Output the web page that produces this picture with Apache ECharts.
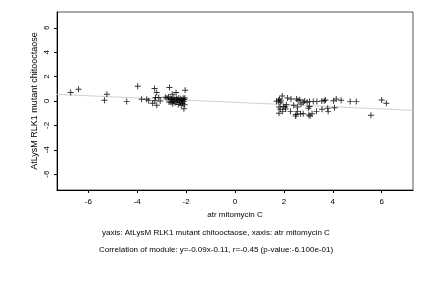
<!DOCTYPE html>
<html><head><meta charset="utf-8">
<script src="https://cdn.jsdelivr.net/npm/echarts@6/dist/echarts.min.js"></script>
<style>html,body{margin:0;padding:0;background:#fff}#c{width:432px;height:288px}</style>
</head><body><div id="c"></div>
<script>
const xValues = [-6.72,-6.40,-5.34,-5.24,-4.43,-3.98,-3.82,-3.61,-3.53,-3.37,-3.29,-3.20,-3.20,-3.25,-3.12,-3.06,-3.28,-2.68,-2.57,-2.41,-2.04,-2.09,
 -2.85,-2.78,-2.72,-2.65,-2.62,-2.58,-2.55,-2.50,-2.48,-2.45,-2.40,-2.38,-2.35,-2.32,-2.30,-2.27,-2.25,-2.22,-2.20,-2.18,-2.15,-2.12,-2.10,-2.08,-2.06,-2.05,-2.70,-2.60,-2.52,-2.15,
 1.93,1.70,1.78,1.82,1.88,1.85,2.15,2.29,2.52,2.58,2.65,2.79,2.85,2.95,3.05,3.20,3.35,3.55,3.65,3.70,4.03,4.14,4.34,4.71,4.96,6.00,6.19,5.56,4.07,3.81,3.79,3.56,3.33,3.15,3.07,3.02,3.00,3.05,2.79,2.68,2.48,2.50,2.55,2.55,2.27,2.07,2.05,1.98,1.80,1.85,1.80,1.95,2.10,2.40,2.70];
const yValues = [0.69,0.96,0.06,0.55,-0.05,1.21,0.14,0.14,0.03,-0.19,1.02,0.69,-0.35,0.28,0.28,0.00,0.02,1.10,0.55,0.69,0.88,-0.63,
 0.30,0.25,0.32,0.20,-0.10,0.10,-0.22,0.28,0.05,-0.15,0.20,-0.05,0.12,-0.28,0.25,0.02,-0.12,0.18,-0.35,0.08,-0.20,0.22,-0.05,0.12,-0.30,0.25,-0.08,0.15,-0.02,0.00,
 0.41,-0.02,0.05,0.15,0.00,-0.15,0.25,0.17,0.17,0.05,0.10,-0.10,0.00,-0.10,-0.05,-0.05,-0.05,0.00,0.02,0.08,0.02,0.17,0.06,-0.05,-0.05,0.08,-0.19,-1.17,-0.55,-0.85,-0.60,-0.68,-0.85,-1.04,-1.23,-1.15,-0.60,-0.45,-1.04,-1.04,-1.23,-1.10,-0.85,-0.50,-0.85,-0.66,-0.50,-0.45,-0.50,-0.68,-1.00,-0.85,-0.30,-0.35,-0.25];
const tickValues = [-6,-4,-2,0,2,4,6];
const fitSlope = -0.09, fitIntercept = -0.11;
const xRange = [-7.28, 7.28], yRange = [-7.3, 7.3];
const xName = 'atr mitomycin C';
const yName = 'AtLysM RLK1 mutant chitooctaose';
const caption1 = 'yaxis: AtLysM RLK1 mutant chitooctaose, xaxis: atr mitomycin C';
const caption2 = 'Correlation of module: y=-0.09x-0.11, r=-0.45 (p-value:-6.100e-01)';

const pts = xValues.map((x,i)=>[x,yValues[i]]);
const fitLine = xRange.map(x=>[x, fitSlope*x+fitIntercept]);
const FONT = '"Liberation Sans", Arial, sans-serif';
const chart = echarts.init(document.getElementById('c'), null, {renderer:'canvas'});
chart.setOption({
  animation:false,
  backgroundColor:'#fff',
  grid:{left:57,right:19,top:12,bottom:98,show:true,borderColor:'#555',borderWidth:1,backgroundColor:'transparent'},
  xAxis:{type:'value',min:xRange[0],max:xRange[1],
    name:xName,nameLocation:'middle',nameGap:20,nameTextStyle:{fontFamily:FONT,fontSize:8,color:'#000'},
    axisLine:{show:true,onZero:false,lineStyle:{color:'#000',width:1}},
    axisTick:{show:true,length:3,inside:false,customValues:tickValues,lineStyle:{color:'#000'}},
    axisLabel:{customValues:tickValues,fontFamily:FONT,fontSize:8,color:'#000',margin:8},
    splitLine:{show:false}},
  yAxis:{type:'value',min:yRange[0],max:yRange[1],
    axisLine:{show:true,onZero:false,lineStyle:{color:'#000',width:1}},
    axisTick:{show:true,length:3,customValues:tickValues,lineStyle:{color:'#000'}},
    axisLabel:{customValues:tickValues,rotate:90,fontFamily:FONT,fontSize:8,color:'#000',margin:6},
    splitLine:{show:false}},
  graphic:[
    {type:'text',x:35,y:101,rotation:Math.PI/2,style:{text:yName,font:'9px '+FONT,fill:'#000',align:'center',verticalAlign:'middle'}},
    {type:'text',left:'center',top:229,style:{text:caption1,font:'8px '+FONT,fill:'#000'}},
    {type:'text',left:'center',top:246,style:{text:caption2,font:'8px '+FONT,fill:'#000'}}
  ],
  series:[
    {type:'line',data:fitLine,symbol:'none',lineStyle:{color:'#d0d0d0',width:1},z:1,silent:true},
    {type:'scatter',data:pts,symbol:'path://M-0.16,-1H0.16V-0.16H1V0.16H0.16V1H-0.16V0.16H-1V-0.16H-0.16Z',symbolSize:6,
     itemStyle:{color:'#000'},z:2}
  ]
});
</script></body></html>
